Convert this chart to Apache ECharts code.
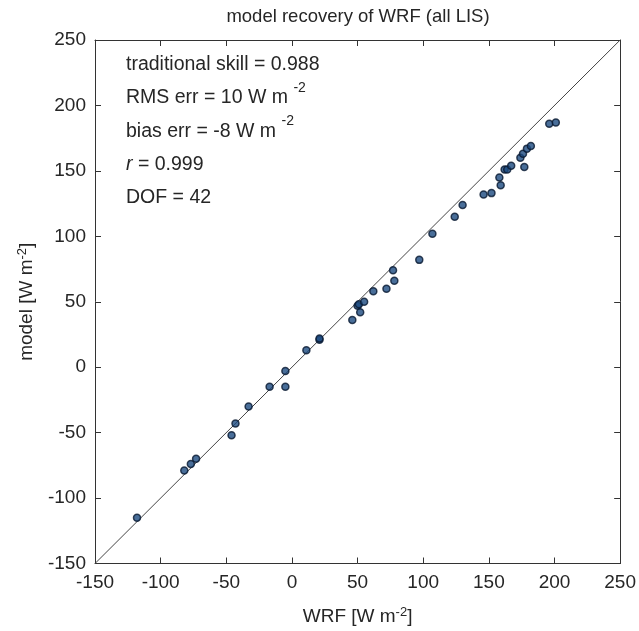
<!DOCTYPE html>
<html>
<head>
<meta charset="utf-8">
<script src="https://cdn.jsdelivr.net/npm/echarts@6/dist/echarts.min.js"></script>
<style>
  html, body { margin: 0; padding: 0; background: #fff; }
  #chart { width: 639px; height: 631px; }
</style>
</head>
<body>
<div id="chart"></div>
<script>
// WRF values (x) and model values (y)
const wrfVals = [-118, -82, -77, -73, -46, -43, -33, -17, -5, -5, 11, 21, 21, 46, 50, 51, 52, 55, 62, 72, 77, 78, 97, 107, 124, 130, 146, 152, 158, 159, 162, 164, 167, 174, 176, 177, 179, 182, 196, 201]
const modelVals = [-115, -79, -74, -70, -52, -43, -30, -15, -15, -3, 13, 21, 22, 36, 47, 48, 42, 50, 58, 60, 74, 66, 82, 102, 115, 124, 132, 133, 145, 139, 151, 151, 154, 160, 163, 153, 167, 169, 186, 187]
const axisMin = -150
const axisMax = 250
const tickStep = 50
const statLines = [
  'traditional skill = 0.988',
  'RMS err = 10 W m {sup|-2}',
  'bias err = -8 W m {sup|-2}',
  '{it|r} = 0.999',
  'DOF = 42'
]

const font = 'Liberation Sans, Arial, sans-serif'
const txt = '#262626'
const chart = echarts.init(document.getElementById('chart'))

const points = wrfVals.map((x, i) => [x, modelVals[i]])
const nameRich = {
  sup: { fontSize: 13, verticalAlign: 'top', padding: [0, 0, 9, 0], color: txt, fontFamily: font }
}

const baseAxis = {
  min: axisMin,
  max: axisMax,
  interval: tickStep,
  axisLine: { show: true, onZero: false, lineStyle: { color: '#333', width: 1 } },
  axisTick: { show: true, inside: true, length: 6, lineStyle: { color: '#333' } },
  splitLine: { show: false }
}

const option = {
  backgroundColor: '#fff',
  animation: false,
  title: [
    {
      text: 'model recovery of WRF (all LIS)',
      left: 358,
      top: 7,
      padding: 0,
      textAlign: 'center',
      textStyle: { fontFamily: font, fontSize: 18.5, lineHeight: 20, fontWeight: 'normal', color: txt }
    },
    {
      text: statLines.join('\n'),
      left: 126,
      top: 48,
      padding: 0,
      textStyle: {
        fontFamily: font, fontSize: 19.5, fontWeight: 'normal', color: txt, lineHeight: 33.3,
        rich: {
          sup: { fontSize: 14, verticalAlign: 'top', padding: [0, 0, 12, 0], color: txt, fontFamily: font, lineHeight: 33.3 },
          it: { fontStyle: 'italic', fontSize: 19.5, color: txt, fontFamily: font, lineHeight: 33.3 }
        }
      }
    }
  ],
  grid: { left: 95, right: 17, top: 40, bottom: 66 },
  xAxis: [
    Object.assign({}, baseAxis, {
      type: 'value',
      position: 'bottom',
      name: 'WRF [W m{sup|-2}]',
      nameLocation: 'middle',
      nameGap: 42,
      nameTextStyle: { fontFamily: font, fontSize: 19, color: txt, rich: nameRich },
      axisLabel: { fontFamily: font, fontSize: 19, color: txt, margin: 10 }
    }),
    Object.assign({}, baseAxis, {
      type: 'value',
      position: 'top',
      axisLabel: { show: false }
    })
  ],
  yAxis: [
    Object.assign({}, baseAxis, {
      type: 'value',
      position: 'left',
      name: 'model [W m{sup|-2}]',
      nameLocation: 'middle',
      nameGap: 57,
      nameTextStyle: { fontFamily: font, fontSize: 19, color: txt, rich: nameRich },
      axisLabel: { fontFamily: font, fontSize: 19, color: txt, margin: 9 }
    }),
    Object.assign({}, baseAxis, {
      type: 'value',
      position: 'right',
      axisLabel: { show: false }
    })
  ],
  series: [
    {
      type: 'line',
      data: [[axisMin, axisMin], [axisMax, axisMax]],
      symbol: 'none',
      lineStyle: { color: '#444', width: 1 },
      z: 1
    },
    {
      type: 'scatter',
      data: points,
      symbol: 'circle',
      symbolSize: 7,
      itemStyle: { color: '#1b4a80', borderColor: '#081830', borderWidth: 1.5 },
      z: 2
    }
  ]
}

chart.setOption(option)
</script>
</body>
</html>
